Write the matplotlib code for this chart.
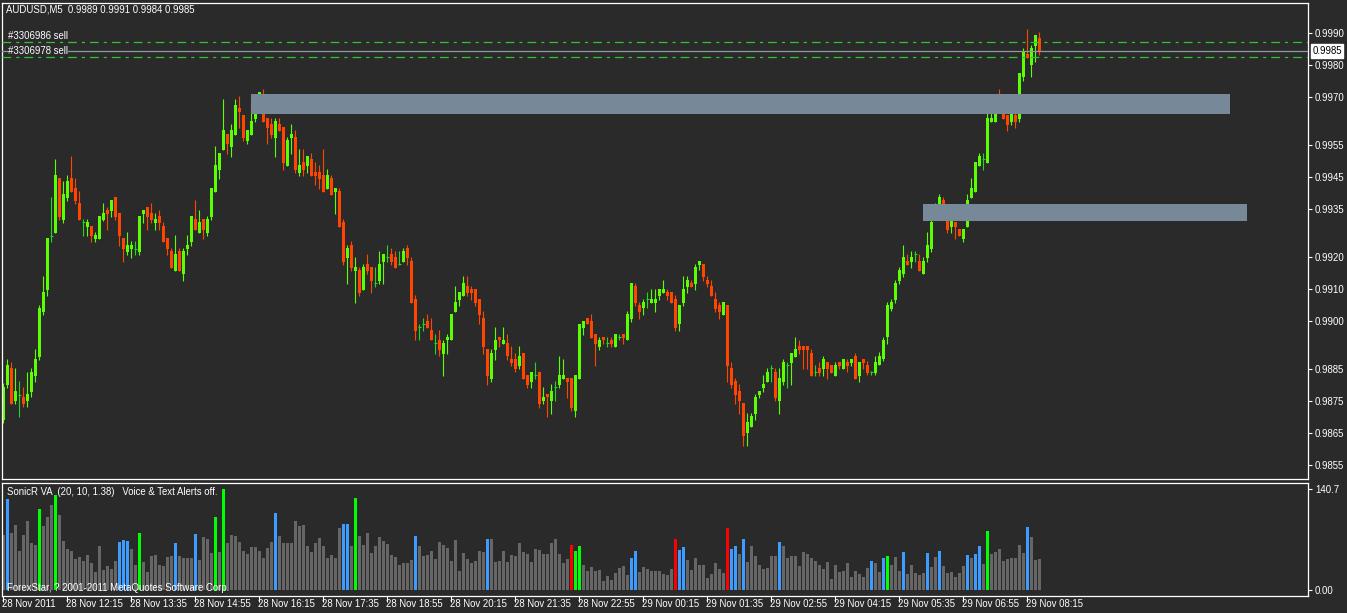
import numpy as np
import matplotlib
matplotlib.use('Agg')
import matplotlib.pyplot as plt
from matplotlib.patches import Rectangle
from matplotlib.transforms import blended_transform_factory

# AUDUSD M5, prices in pips (price * 10000), one entry per 5-minute bar
openPips = [
    9869.0, 9880.0, 9885.4, 9875.1, 9877.0, 9876.2, 9875.1, 9877.9, 9882.8, 9888.7,
    9902.8, 9909.7, 9926.7, 9927.6, 9944.7, 9931.5, 9938.5, 9944.7, 9941.5, 9936.8,
    9930.9, 9929.4, 9929.6, 9925.7, 9925.7, 9931.6, 9934.7, 9934.4, 9938.7, 9933.7,
    9925.9, 9921.6, 9922.6, 9922.6, 9921.6, 9933.5, 9935.6, 9933.7, 9930.7, 9932.8,
    9929.6, 9925.9, 9921.8, 9915.7, 9921.9, 9914.8, 9922.6, 9924.7, 9931.9, 9927.6,
    9931.9, 9927.6, 9932.6, 9940.4, 9947.3, 9953.5, 9958.4, 9954.5, 9958.2, 9966.6,
    9964.4, 9956.3, 9958.2, 9963.2, 9968.2, 9970.3, 9963.4, 9961.6, 9957.3, 9961.6,
    9960.6, 9948.5, 9957.3, 9957.5, 9946.3, 9949.7, 9948.5, 9950.6, 9946.6, 9946.6,
    9945.6, 9941.3, 9944.7, 9940.4, 9940.6, 9930.9, 9919.8, 9923.8, 9915.7, 9915.9,
    9909.8, 9917.8, 9916.9, 9911.9, 9912.6, 9918.5, 9920.0, 9920.9, 9920.0, 9917.8,
    9918.5, 9922.8, 9918.7, 9906.9, 9898.1, 9899.1, 9900.0, 9897.2, 9893.0, 9894.1,
    9889.8, 9893.9, 9893.9, 9902.9, 9906.7, 9907.9, 9910.9, 9910.0, 9910.0, 9906.9,
    9900.9, 9891.3, 9882.0, 9891.0, 9895.0, 9892.9, 9893.1, 9888.1, 9888.1, 9886.0,
    9890.0, 9883.1, 9881.0, 9883.1, 9884.1, 9875.1, 9877.2, 9875.1, 9879.4, 9880.1,
    9882.0, 9882.2, 9882.2, 9872.0, 9882.0, 9897.9, 9900.9, 9900.0, 9895.9, 9892.0,
    9895.0, 9893.1, 9894.1, 9892.0, 9895.0, 9895.9, 9893.9, 9900.7, 9910.9, 9905.0,
    9903.9, 9906.9, 9905.7, 9905.7, 9907.9, 9908.9, 9909.1, 9909.1, 9906.9, 9898.9,
    9905.7, 9910.7, 9911.9, 9911.6, 9917.5, 9917.8, 9912.8, 9910.9, 9906.9, 9905.0,
    9901.9, 9905.0, 9885.3, 9881.3, 9878.1, 9874.4, 9865.0, 9866.9, 9870.9, 9876.9,
    9879.1, 9880.9, 9885.3, 9884.1, 9875.0, 9880.9, 9886.3, 9886.9, 9888.8, 9892.2,
    9892.2, 9892.2, 9890.0, 9884.1, 9885.3, 9885.0, 9887.2, 9886.3, 9882.8, 9887.2,
    9885.0, 9887.2, 9886.9, 9889.1, 9882.8, 9888.1, 9886.2, 9884.0, 9883.7, 9886.2,
    9888.1, 9895.0, 9903.8, 9906.6, 9912.6, 9914.7, 9918.8, 9918.3, 9920.8, 9918.8,
    9914.7, 9919.7, 9922.5, 9931.6, 9934.4, 9937.8, 9931.9, 9929.5, 9930.9, 9928.7,
    9925.6, 9929.4, 9938.4, 9940.3, 9948.4, 9950.6, 9949.4, 9962.2, 9962.2, 9966.6,
    9966.6, 9964.4, 9962.2, 9964.4, 9963.1, 9976.3, 9983.5, 9980.0, 9985.9, 9988.4,
]
highPips = [
    9880.5, 9888.1, 9887.1, 9885.3, 9881.2, 9879.3, 9884.0, 9885.2, 9891.2, 9905.0,
    9914.0, 9925.9, 9938.7, 9950.6, 9944.7, 9943.7, 9945.6, 9951.5, 9944.7, 9940.6,
    9931.8, 9931.8, 9929.6, 9927.8, 9932.8, 9936.8, 9935.7, 9937.8, 9938.7, 9933.7,
    9925.9, 9927.8, 9925.0, 9925.0, 9932.8, 9934.7, 9935.6, 9936.8, 9933.7, 9934.7,
    9930.9, 9925.9, 9922.8, 9926.8, 9922.7, 9922.7, 9926.9, 9932.8, 9937.8, 9934.7,
    9931.9, 9932.8, 9941.6, 9954.7, 9952.5, 9969.4, 9958.4, 9961.6, 9969.4, 9970.3,
    9964.4, 9959.7, 9968.4, 9968.4, 9971.6, 9972.5, 9963.4, 9963.4, 9963.4, 9963.4,
    9960.6, 9957.5, 9961.6, 9959.7, 9953.7, 9953.7, 9951.6, 9952.5, 9949.7, 9948.7,
    9953.7, 9947.5, 9945.6, 9941.6, 9941.6, 9931.9, 9923.8, 9924.9, 9920.0, 9916.9,
    9917.8, 9920.9, 9916.9, 9916.9, 9921.9, 9920.9, 9923.8, 9922.8, 9921.9, 9921.9,
    9922.8, 9923.8, 9920.0, 9908.1, 9899.1, 9900.9, 9902.2, 9900.9, 9895.9, 9897.2,
    9894.1, 9895.9, 9902.2, 9910.9, 9909.1, 9914.1, 9914.1, 9910.9, 9910.0, 9906.9,
    9903.1, 9891.3, 9891.3, 9898.1, 9895.0, 9898.1, 9895.9, 9892.2, 9890.0, 9892.2,
    9890.0, 9883.1, 9884.1, 9887.2, 9884.1, 9879.4, 9877.2, 9880.3, 9881.3, 9889.1,
    9888.1, 9882.2, 9882.2, 9883.1, 9899.1, 9900.0, 9900.9, 9902.2, 9895.9, 9895.0,
    9895.0, 9895.0, 9895.0, 9895.9, 9895.9, 9895.9, 9903.1, 9911.9, 9911.9, 9905.9,
    9906.9, 9909.1, 9910.0, 9910.0, 9910.0, 9912.8, 9910.0, 9909.1, 9908.1, 9905.0,
    9914.1, 9914.1, 9912.8, 9917.8, 9918.8, 9917.8, 9914.1, 9912.8, 9909.1, 9905.9,
    9905.9, 9905.0, 9887.2, 9882.2, 9880.3, 9874.4, 9871.3, 9871.3, 9877.2, 9878.1,
    9883.1, 9885.3, 9886.3, 9885.3, 9885.3, 9888.1, 9887.2, 9890.0, 9895.0, 9894.1,
    9892.2, 9892.2, 9891.3, 9886.3, 9887.2, 9889.1, 9887.2, 9886.3, 9887.2, 9887.2,
    9888.1, 9888.1, 9888.1, 9890.0, 9887.2, 9888.1, 9887.5, 9884.4, 9889.1, 9890.3,
    9895.0, 9905.9, 9906.9, 9912.7, 9916.9, 9923.8, 9920.9, 9921.9, 9921.9, 9920.9,
    9920.0, 9927.8, 9931.9, 9936.9, 9939.7, 9938.8, 9932.8, 9932.8, 9930.9, 9928.7,
    9928.7, 9939.7, 9944.7, 9949.7, 9952.5, 9952.5, 9969.4, 9967.5, 9969.4, 9972.5,
    9968.4, 9964.4, 9966.6, 9965.6, 9977.5, 9985.3, 9991.3, 9986.3, 9989.4, 9990.3,
]
lowPips = [
    9868.2, 9879.2, 9874.0, 9874.0, 9870.1, 9873.0, 9873.0, 9876.1, 9881.0, 9887.9,
    9901.9, 9907.9, 9924.7, 9927.6, 9931.5, 9930.7, 9937.6, 9940.4, 9936.7, 9931.6,
    9926.6, 9926.6, 9924.8, 9924.8, 9925.7, 9931.3, 9928.5, 9932.6, 9931.6, 9923.5,
    9918.5, 9920.7, 9919.8, 9920.7, 9920.7, 9930.7, 9928.5, 9930.7, 9928.5, 9928.5,
    9924.8, 9920.7, 9916.6, 9915.7, 9915.7, 9912.6, 9920.6, 9923.5, 9928.5, 9927.6,
    9925.6, 9926.7, 9931.7, 9940.4, 9944.5, 9953.5, 9952.3, 9951.3, 9958.2, 9960.4,
    9956.3, 9955.4, 9958.2, 9962.3, 9966.3, 9962.3, 9955.4, 9957.3, 9951.3, 9959.5,
    9947.3, 9948.5, 9952.3, 9946.3, 9945.4, 9945.4, 9946.3, 9945.4, 9942.6, 9941.3,
    9940.4, 9941.3, 9939.5, 9933.5, 9929.5, 9917.6, 9911.7, 9915.7, 9905.7, 9907.9,
    9909.8, 9914.8, 9908.9, 9910.7, 9911.7, 9911.7, 9918.5, 9917.6, 9916.7, 9917.6,
    9918.5, 9917.6, 9905.7, 9893.9, 9893.9, 9897.0, 9897.9, 9893.9, 9889.8, 9888.9,
    9882.9, 9889.8, 9893.9, 9902.9, 9904.8, 9907.9, 9907.9, 9906.7, 9904.8, 9898.9,
    9889.8, 9880.1, 9881.0, 9887.9, 9892.0, 9892.9, 9887.9, 9886.0, 9883.9, 9885.1,
    9882.0, 9879.2, 9879.2, 9882.0, 9872.9, 9874.2, 9870.1, 9871.0, 9875.1, 9879.2,
    9882.0, 9876.0, 9872.0, 9870.1, 9882.0, 9895.7, 9898.9, 9894.8, 9886.0, 9891.0,
    9892.9, 9892.0, 9892.0, 9892.0, 9893.9, 9892.9, 9893.9, 9899.8, 9904.8, 9900.7,
    9902.0, 9903.9, 9905.7, 9902.9, 9906.7, 9908.9, 9906.7, 9905.7, 9897.0, 9897.0,
    9904.8, 9908.9, 9910.6, 9909.7, 9915.9, 9912.5, 9910.6, 9907.8, 9902.8, 9900.6,
    9901.9, 9880.9, 9879.1, 9874.1, 9870.9, 9860.9, 9860.9, 9866.9, 9869.1, 9875.9,
    9877.8, 9880.9, 9880.9, 9875.0, 9870.9, 9880.0, 9879.1, 9880.0, 9888.8, 9889.7,
    9885.0, 9885.0, 9882.8, 9882.8, 9882.8, 9882.8, 9881.9, 9883.8, 9882.8, 9885.0,
    9885.0, 9884.1, 9885.9, 9881.9, 9880.9, 9885.0, 9883.1, 9883.1, 9883.1, 9886.2,
    9887.5, 9892.8, 9903.0, 9905.6, 9911.7, 9913.8, 9917.5, 9916.6, 9918.4, 9915.7,
    9914.7, 9918.4, 9921.6, 9931.6, 9932.5, 9931.6, 9927.5, 9927.5, 9925.6, 9926.6,
    9924.7, 9929.4, 9938.4, 9940.3, 9948.4, 9947.2, 9949.4, 9962.2, 9962.2, 9965.3,
    9963.1, 9959.4, 9961.3, 9960.3, 9962.2, 9975.0, 9982.3, 9976.3, 9980.9, 9983.1,
]
closePips = [
    9879.4, 9886.2, 9874.0, 9878.1, 9877.0, 9874.0, 9877.2, 9884.0, 9888.1, 9904.0,
    9909.0, 9925.9, 9926.7, 9945.6, 9932.6, 9939.7, 9943.7, 9940.4, 9937.5, 9931.6,
    9930.9, 9930.9, 9926.6, 9926.8, 9932.8, 9933.7, 9933.5, 9937.8, 9932.6, 9926.6,
    9922.6, 9923.7, 9923.7, 9922.6, 9932.8, 9934.7, 9932.6, 9931.6, 9931.8, 9930.7,
    9924.8, 9922.6, 9916.6, 9920.9, 9915.7, 9921.9, 9923.6, 9932.8, 9928.5, 9930.9,
    9928.5, 9931.9, 9941.6, 9948.7, 9952.5, 9959.7, 9955.4, 9959.7, 9967.5, 9965.4,
    9957.3, 9959.7, 9962.5, 9967.5, 9971.6, 9962.3, 9960.4, 9958.2, 9962.5, 9959.5,
    9949.5, 9956.6, 9958.4, 9947.3, 9948.7, 9947.3, 9951.6, 9945.4, 9945.4, 9944.5,
    9940.4, 9945.6, 9939.5, 9941.6, 9929.5, 9918.5, 9922.8, 9916.7, 9916.9, 9908.9,
    9916.9, 9915.7, 9912.6, 9911.9, 9917.8, 9920.9, 9920.0, 9918.5, 9916.7, 9917.8,
    9921.9, 9919.8, 9905.7, 9897.0, 9898.1, 9899.1, 9897.9, 9893.9, 9893.0, 9891.0,
    9893.1, 9895.0, 9902.2, 9905.9, 9909.1, 9911.9, 9908.9, 9908.9, 9905.7, 9902.0,
    9892.0, 9882.9, 9890.0, 9894.1, 9893.9, 9894.1, 9888.9, 9887.0, 9885.1, 9889.1,
    9882.0, 9880.1, 9884.1, 9883.1, 9874.2, 9876.3, 9876.1, 9878.1, 9879.4, 9883.1,
    9883.1, 9881.0, 9872.9, 9883.1, 9899.1, 9900.0, 9898.9, 9894.8, 9892.9, 9894.1,
    9893.9, 9893.1, 9892.9, 9895.9, 9895.0, 9894.8, 9902.2, 9911.9, 9905.7, 9902.9,
    9905.9, 9906.9, 9906.9, 9906.9, 9910.0, 9910.0, 9907.9, 9905.7, 9897.9, 9905.0,
    9910.0, 9912.8, 9910.6, 9916.9, 9918.8, 9913.8, 9911.6, 9907.8, 9903.8, 9902.8,
    9905.9, 9885.9, 9880.0, 9876.9, 9875.0, 9864.1, 9868.4, 9870.3, 9876.3, 9878.1,
    9880.3, 9884.1, 9885.3, 9875.9, 9882.2, 9887.2, 9886.3, 9890.0, 9891.3, 9891.0,
    9891.0, 9891.0, 9882.8, 9884.1, 9883.8, 9888.1, 9885.0, 9883.8, 9886.3, 9885.9,
    9888.1, 9885.9, 9888.1, 9881.9, 9887.2, 9886.9, 9883.7, 9884.0, 9887.2, 9889.1,
    9894.1, 9905.0, 9906.0, 9911.8, 9915.9, 9920.0, 9917.5, 9920.0, 9920.8, 9915.7,
    9918.8, 9923.6, 9930.9, 9935.6, 9938.8, 9932.6, 9928.4, 9931.9, 9929.3, 9926.6,
    9928.7, 9937.8, 9941.6, 9949.7, 9951.6, 9950.6, 9963.4, 9963.4, 9965.6, 9965.3,
    9963.1, 9961.3, 9965.6, 9962.2, 9977.5, 9984.4, 9982.3, 9985.3, 9989.4, 9984.1,
]

# SonicR VA indicator values, one per bar
volume = [
    76.6, 126.8, 79.4, 90.6, 54.3, 76.6, 96.1, 65.5, 62.7, 112.8,
    89.2, 101.7, 118.4, 132.4, 104.5, 68.3, 57.1, 54.3, 43.2, 46.0,
    40.4, 48.8, 37.6, 25.1, 61.3, 27.9, 33.4, 29.3, 40.4, 66.9,
    69.7, 68.3, 57.1, 34.8, 79.4, 39.0, 25.1, 47.4, 48.8, 34.8,
    33.4, 46.0, 47.4, 65.5, 47.4, 44.6, 44.6, 44.6, 78.0, 41.8,
    73.8, 71.1, 51.5, 101.7, 52.9, 140.7, 65.5, 76.6, 75.2, 66.9,
    54.3, 50.2, 59.9, 59.9, 54.3, 44.6, 58.5, 66.9, 107.3, 75.2,
    65.5, 65.5, 65.5, 96.1, 89.2, 90.6, 61.3, 52.9, 65.5, 72.4,
    61.3, 44.6, 48.8, 44.6, 86.4, 91.9, 91.9, 61.3, 128.2, 75.2,
    62.7, 79.4, 51.5, 61.3, 73.8, 68.3, 64.1, 48.8, 46.0, 34.8,
    37.6, 37.6, 41.8, 75.2, 61.3, 47.4, 48.8, 54.3, 43.2, 66.9,
    62.7, 58.5, 40.4, 69.7, 26.5, 51.5, 43.2, 37.6, 40.4, 54.3,
    52.9, 71.1, 71.1, 39.0, 40.4, 54.3, 39.0, 48.8, 47.4, 65.5,
    52.9, 50.2, 39.0, 57.1, 55.7, 50.2, 50.2, 65.5, 71.1, 50.2,
    37.6, 43.2, 62.7, 54.3, 61.3, 34.8, 26.5, 32.0, 26.5, 27.9,
    12.5, 19.5, 13.9, 23.7, 30.7, 33.4, 20.9, 44.6, 54.3, 25.1,
    32.0, 29.3, 26.5, 26.5, 26.5, 22.3, 20.9, 29.3, 71.1, 55.7,
    59.9, 41.8, 27.9, 44.6, 34.8, 34.8, 16.7, 22.3, 37.6, 29.3,
    23.7, 86.4, 57.1, 61.3, 50.2, 71.1, 39.0, 61.3, 47.4, 34.8,
    29.3, 30.7, 47.4, 47.4, 66.9, 61.3, 44.6, 47.4, 47.4, 33.4,
    52.9, 50.2, 44.6, 40.4, 34.8, 29.3, 39.0, 15.3, 34.8, 25.1,
    26.5, 37.6, 18.1, 26.5, 22.3, 18.1, 30.7, 40.4, 37.6, 25.1,
    44.6, 47.4, 34.8, 46.0, 26.5, 52.9, 22.3, 34.8, 23.7, 20.9,
    23.7, 51.5, 32.0, 46.0, 54.3, 33.4, 23.7, 25.1, 18.1, 23.7,
    33.4, 48.8, 44.6, 50.2, 61.3, 36.2, 82.2, 50.2, 52.9, 57.1,
    40.4, 43.2, 44.6, 44.6, 62.7, 51.5, 87.8, 73.8, 41.8, 43.2,
]
# bars the indicator highlights
blueBars = [1, 29, 30, 31, 43, 48, 68, 85, 86, 103, 121, 157, 158, 169, 170,
            182, 183, 185, 194, 217, 220, 225, 231, 234, 241, 243, 244, 256]
climaxUpBars = [9, 13, 34, 53, 55, 88, 143, 144, 221, 246]
climaxDownBars = [142, 168, 181]

timeLabels = ['28 Nov 2011', '28 Nov 12:15', '28 Nov 13:35', '28 Nov 14:55',
              '28 Nov 16:15', '28 Nov 17:35', '28 Nov 18:55', '28 Nov 20:15',
              '28 Nov 21:35', '28 Nov 22:55', '29 Nov 00:15', '29 Nov 01:35',
              '29 Nov 02:55', '29 Nov 04:15', '29 Nov 05:35', '29 Nov 06:55',
              '29 Nov 08:15']
priceTicks = [0.9990, 0.9980, 0.9970, 0.9955, 0.9945, 0.9935, 0.9920,
              0.9910, 0.9900, 0.9885, 0.9875, 0.9865, 0.9855]

# supply/demand zones drawn on the chart (bar index, price)
zoneStart = [61.9, 229.9]
zoneEnd = [306.7, 310.9]
zoneTop = [0.99709, 0.99366]
zoneBottom = [0.99647, 0.99313]

orderPrices = [0.99871, 0.99824]
orderNames = ['#3306986 sell', '#3306978 sell']
bidPrice = 0.99844

BG = '#2a2a2a'
UP = '#5cff00'
DOWN = '#ff4500'
DOJI = '#22d622'
FONT = 'Liberation Sans'
FS = 6.9

W, H = 1347, 613
fig = plt.figure(figsize=(W / 100, H / 100), dpi=100, facecolor=BG)
ax = fig.add_axes([2 / W, 1 - 479 / H, 1306 / W, 476 / H], facecolor=BG)
axVol = fig.add_axes([2 / W, 1 - 596 / H, 1306 / W, 113 / H], facecolor=BG)

opens = np.array(openPips) / 10000
highs = np.array(highPips) / 10000
lows = np.array(lowPips) / 10000
closes = np.array(closePips) / 10000
x = np.arange(len(opens))

up = closes > opens
down = closes < opens
doji = closes == opens

# candles
ax.vlines(x[up], lows[up], highs[up], color=UP, lw=0.8)
ax.vlines(x[down], lows[down], highs[down], color=DOWN, lw=0.8)
ax.vlines(x[doji], lows[doji], highs[doji], color=DOJI, lw=0.8)
ax.bar(x[up], closes[up] - opens[up], bottom=opens[up], width=0.75,
       color=UP, linewidth=0)
ax.bar(x[down], opens[down] - closes[down], bottom=closes[down], width=0.75,
       color=DOWN, linewidth=0)
ax.hlines(closes[doji], x[doji] - 0.4, x[doji] + 0.4, color=DOJI, lw=0.8)

for x0, x1, top, bot in zip(zoneStart, zoneEnd, zoneTop, zoneBottom):
    ax.add_patch(Rectangle((x0, bot), x1 - x0, top - bot,
                           facecolor='#778899', edgecolor='none', zorder=3))

# order levels and bid line
ax.axhline(bidPrice, color='#8f979f', lw=0.9, zorder=4)
for price, name in zip(orderPrices, orderNames):
    ax.axhline(price, color='#2fc42f', lw=0.9, zorder=4,
               linestyle=(0, (7, 4, 2.5, 4)))
    ax.text(6 / 1306, price + 0.00005, name, transform=ax.get_yaxis_transform(),
            ha='left', va='bottom', color='white', fontsize=FS, family=FONT,
            zorder=5, bbox=dict(facecolor=BG, edgecolor='none', pad=0.3))

ax.text(4 / 1306, 1 - 7 / 476, 'AUDUSD,M5  0.9989 0.9991 0.9984 0.9985',
        transform=ax.transAxes, ha='left', va='center', color='white',
        fontsize=FS, family=FONT)

ax.set_xlim(-0.325, 326.2)
ax.set_ylim(0.98506, 0.99994)
ax.set_xticks([])
ax.yaxis.tick_right()
ax.set_yticks(priceTicks)
ax.set_yticklabels(['%.4f' % p for p in priceTicks], family=FONT)
ax.tick_params(axis='y', colors='white', labelsize=FS, length=3, width=0.8, pad=2)
ax.text(1.0032, bidPrice, '0.9985', transform=ax.get_yaxis_transform(),
        ha='left', va='center', color='black', fontsize=FS, family=FONT,
        bbox=dict(facecolor='white', edgecolor='white', pad=1.2))

# volume pane
volColors = ['#666666'] * len(volume)
for i in blueBars:
    volColors[i] = '#3d9cff'
for i in climaxUpBars:
    volColors[i] = '#00ff00'
for i in climaxDownBars:
    volColors[i] = '#ff0000'
axVol.bar(x, volume, width=0.75, color=volColors, linewidth=0)
axVol.set_xlim(-0.325, 326.2)
axVol.set_ylim(-8.4, 149.1)
axVol.yaxis.tick_right()
axVol.set_yticks([140.7, 0])
axVol.set_yticklabels(['140.7', '0.00'], family=FONT)
axVol.tick_params(axis='y', colors='white', labelsize=FS, length=3, width=0.8, pad=2)

tickPos = np.arange(len(timeLabels)) * 16
axVol.set_xticks(tickPos)
axVol.set_xticklabels([])
axVol.tick_params(axis='x', colors='white', length=4, width=0.8)
trans = blended_transform_factory(axVol.transData, axVol.transAxes)
for pos, label in zip(tickPos, timeLabels):
    axVol.text(pos - 0.2, -0.075, label, transform=trans, ha='left', va='center',
               color='white', fontsize=FS, family=FONT, clip_on=False)

axVol.text(5 / 1306, 1 - 9 / 113, 'SonicR VA  (20, 10, 1.38)   Voice & Text Alerts off.',
           transform=axVol.transAxes, ha='left', va='center', color='white',
           fontsize=FS, family=FONT)
axVol.text(5 / 1306, 8 / 113, 'ForexStar, ? 2001-2011 MetaQuotes Software Corp.',
           transform=axVol.transAxes, ha='left', va='center', color='white',
           fontsize=FS, family=FONT)

for a in (ax, axVol):
    for s in a.spines.values():
        s.set_color('white')
        s.set_linewidth(0.9)

fig.savefig('out.png', dpi=100, facecolor=BG)
